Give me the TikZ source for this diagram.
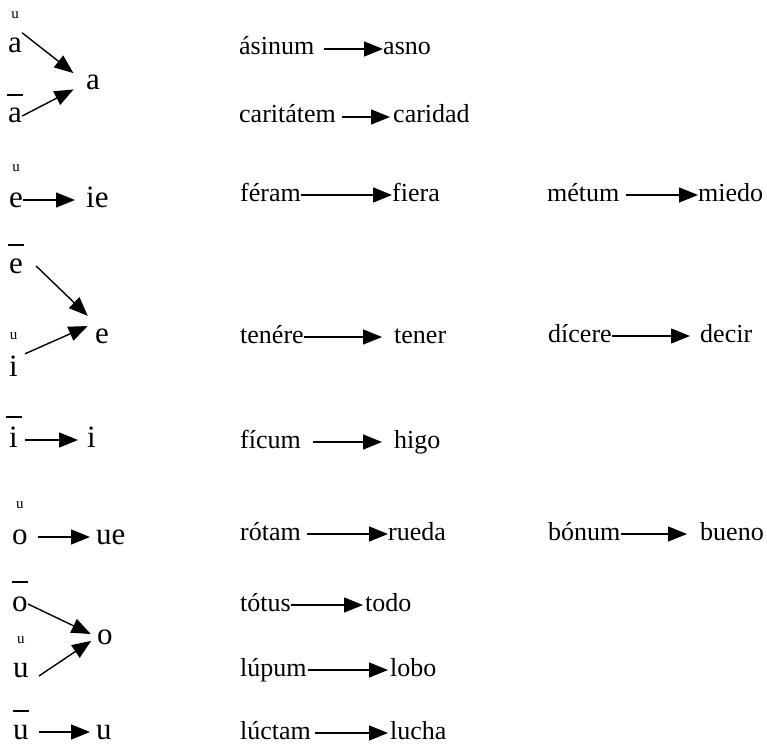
\documentclass[tikz,border=0pt]{standalone}
\usepackage{fontspec}
\setmainfont{Liberation Serif}
\usepackage{tikz}
\usetikzlibrary{arrows.meta, positioning}
\tikzstyle{vowel} = [inner sep = 0pt, anchor = base west, text height = 20pt, text depth = 6pt, font = \fontsize{31}{31}\selectfont]
\tikzstyle{word} = [inner sep = 0pt, anchor = base west, text height = 19pt, text depth = 7pt, font = \fontsize{26}{26}\selectfont]
\tikzstyle{brevemark} = [inner sep = 0pt, font = \fontsize{15}{15}\selectfont]
\tikzstyle{macron} = [fill, inner sep = 0pt, minimum width = 16pt, minimum height = 1.4pt]
\tikzstyle{line} = [draw, line width = 1.4pt, -{Triangle[length = 19pt, width = 15pt]}]

\begin{document}
\begin{tikzpicture}[x = 1pt, y = -1pt]
			\useasboundingbox (0, 0) rectangle (767, 746);

			\node [vowel] (abrev) at (8, 53) {a};
			\node [vowel] (along) at (8, 123) {a};
			\node [vowel] (anew) at (86, 90) {a};
			\node [brevemark, above = 14pt of abrev] (mk1) {u};
			\node [macron, above = 7pt of along] (mk2) {};

			\node [vowel] (ebrev) at (9, 207) {e};
			\node [vowel] (ienew) at (86, 207) {ie};
			\node [brevemark, above = 15pt of ebrev] (mk3) {u};

			\node [vowel] (elong) at (9, 273) {e};
			\node [vowel] (ibrev) at (9, 376) {i};
			\node [vowel] (enew) at (95, 343) {e};
			\node [macron, above = 7pt of elong] (mk4) {};
			\node [brevemark, above = 16pt of ibrev] (mk5) {u};

			\node [vowel] (ilong) at (9, 447) {i};
			\node [vowel] (inew) at (87, 447) {i};
			\node [macron, above = 9pt of ilong] (mk6) {};

			\node [vowel] (obrev) at (12, 544) {o};
			\node [vowel] (uenew) at (96, 544) {ue};
			\node [brevemark, above = 15pt of obrev] (mk7) {u};

			\node [vowel] (olong) at (12, 611) {o};
			\node [vowel] (ubrev) at (13, 677) {u};
			\node [vowel] (onew) at (97, 644) {o};
			\node [macron, above = 8pt of olong] (mk8) {};
			\node [brevemark, above = 13pt of ubrev] (mk9) {u};

			\node [vowel] (ulong) at (13, 739) {u};
			\node [vowel] (unew) at (96, 739) {u};
			\node [macron, above = 7pt of ulong] (mk10) {};

			\node [word] (asinum) at (239, 55) {ásinum};
			\node [word] (asno) at (383, 55) {asno};
			\node [word] (caritatem) at (239, 123) {caritátem};
			\node [word] (caridad) at (393, 123) {caridad};
			\node [word] (feram) at (240, 201) {féram};
			\node [word] (fiera) at (392, 201) {fiera};
			\node [word] (tenere) at (240, 343) {tenére};
			\node [word] (tener) at (394, 343) {tener};
			\node [word] (ficum) at (240, 448) {fícum};
			\node [word] (higo) at (394, 448) {higo};
			\node [word] (rotam) at (240, 540) {rótam};
			\node [word] (rueda) at (388, 540) {rueda};
			\node [word] (totus) at (240, 611) {tótus};
			\node [word] (todo) at (365, 611) {todo};
			\node [word] (lupum) at (240, 676) {lúpum};
			\node [word] (lobo) at (390, 676) {lobo};
			\node [word] (luctam) at (240, 739) {lúctam};
			\node [word] (lucha) at (390, 739) {lucha};

			\node [word] (metum) at (547, 201) {métum};
			\node [word] (miedo) at (698, 201) {miedo};
			\node [word] (dicere) at (548, 342) {dícere};
			\node [word] (decir) at (700, 342) {decir};
			\node [word] (bonum) at (548, 540) {bónum};
			\node [word] (bueno) at (700, 540) {bueno};

			\path [line, shorten >= 16pt] (abrev.north east) -- (anew.west);
			\path [line, shorten >= 14pt] (along.east) -- (anew.west);
			\path [line, shorten >= 11pt] (ebrev.east) -- (ienew.west);
			\path [line, shorten >= 10pt] ([xshift = 13pt]elong.east) -- (enew.north west);
			\path [line, shorten >= 8pt] ([xshift = 7pt, yshift = 2pt]ibrev.north east) -- (enew.north west);
			\path [line, shorten <= 7pt, shorten >= 9pt] (ilong.east) -- (inew.west);
			\path [line, shorten <= 10pt, shorten >= 6pt] (obrev.east) -- (uenew.west);
			\path [line, shorten >= 7pt] (olong.east) -- (onew.west);
			\path [line, shorten >= 7pt] ([xshift = 10pt, yshift = -6pt]ubrev.east) -- (onew.west);
			\path [line, shorten <= 10pt, shorten >= 6pt] (ulong.east) -- (unew.west);

			\path [line, shorten <= 9pt] (asinum) -- (asno);
			\path [line, shorten <= 6pt, shorten >= 3pt] (caritatem) -- (caridad);
			\path [line] (feram) -- (fiera);
			\path [line, shorten >= 12pt] (tenere) -- (tener);
			\path [line, shorten <= 12pt, shorten >= 12pt] (ficum) -- (higo);
			\path [line, shorten <= 6pt] (rotam) -- (rueda);
			\path [line, shorten >= 2pt] (totus) -- (todo);
			\path [line, shorten <= 1pt, shorten >= 2pt] (lupum) -- (lobo);
			\path [line, shorten <= 4pt, shorten >= 2pt] (luctam) -- (lucha);
			\path [line, shorten <= 6pt] (metum) -- (miedo);
			\path [line, shorten >= 10pt] (dicere) -- (decir);
			\path [line, shorten >= 13pt] (bonum) -- (bueno);
		\end{tikzpicture}
\end{document}
